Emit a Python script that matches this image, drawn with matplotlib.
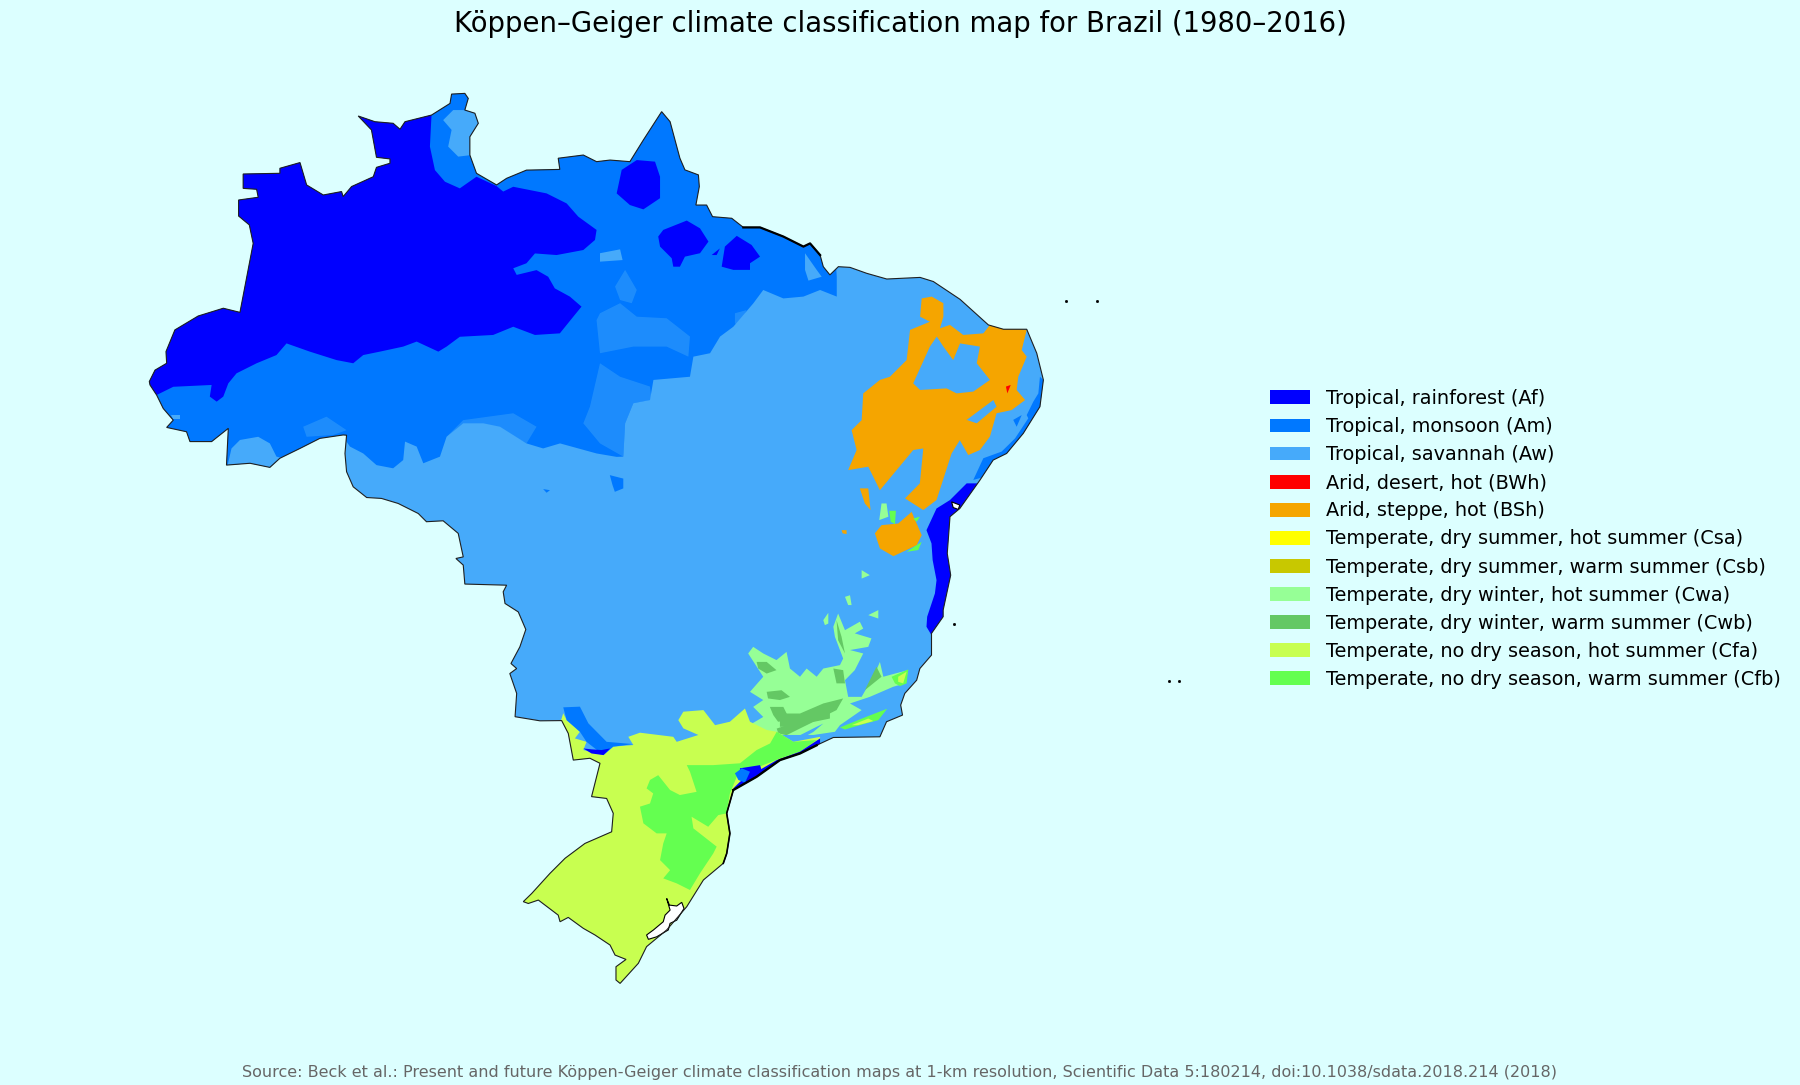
import matplotlib
matplotlib.use("Agg")
import matplotlib.pyplot as plt
from matplotlib.patches import Polygon, Patch

# ---- legend data
labels = ["Tropical, rainforest (Af)", "Tropical, monsoon (Am)", "Tropical, savannah (Aw)",
          "Arid, desert, hot (BWh)", "Arid, steppe, hot (BSh)",
          "Temperate, dry summer, hot summer (Csa)", "Temperate, dry summer, warm summer (Csb)",
          "Temperate, dry winter, hot summer (Cwa)", "Temperate, dry winter, warm summer (Cwb)",
          "Temperate, no dry season, hot summer (Cfa)", "Temperate, no dry season, warm summer (Cfb)"]
codes = ["Af", "Am", "Aw", "BWh", "BSh", "Csa", "Csb", "Cwa", "Cwb", "Cfa", "Cfb"]
hexes = ["#0000FF", "#0078FF", "#46AAFA", "#FF0000", "#F5A500", "#FFFF00", "#C8C800",
         "#96FF96", "#64C864", "#C8FF50", "#64FF50"]
palette = dict(zip(codes, hexes))
title_text = "Köppen–Geiger climate classification map for Brazil (1980–2016)"
source_text = ("Source: Beck et al.: Present and future Köppen-Geiger climate classification maps at "
               "1-km resolution, Scientific Data 5:180214, doi:10.1038/sdata.2018.214 (2018)")

# ---- geography, (lon, lat) in degrees
brazil = [(-73.99,-7.37),(-73.74,-6.87),(-73.23,-6.57),(-73.26,-6.06),(-72.87,-5.11),(-71.85,-4.50),(-70.75,-4.16),(-70.02,-4.34),
 (-69.44,-1.32),(-69.61,-0.51),(-70.08,-0.12),(-70.08,0.58),(-69.22,0.70),(-69.29,1.05),(-69.88,1.09),(-69.88,1.72),(-68.27,1.75),
 (-68.27,1.97),(-67.39,2.22),(-67.10,1.24),(-66.37,0.80),(-65.57,0.95),(-65.50,0.73),(-65.13,1.17),(-64.18,1.60),(-64.04,2.01),
 (-63.45,2.19),(-63.45,2.38),(-64.04,2.45),(-64.26,3.65),(-64.84,4.26),(-64.11,4.01),(-63.31,3.94),(-63.01,3.68),(-62.79,4.01),
 (-61.63,4.30),(-60.82,4.81),(-60.75,5.22),(-60.17,5.25),(-60.02,5.03),(-60.17,4.52),(-59.73,4.38),(-59.58,3.94),(-59.95,3.35),
 (-59.95,2.55),(-59.66,1.75),(-58.78,1.24),(-58.34,1.53),(-57.47,1.89),(-56.01,1.92),(-56.08,2.41),(-54.98,2.55),(-54.40,2.26),
 (-53.81,2.33),(-52.94,2.26),(-52.35,3.21),(-51.55,4.45),(-51.18,4.01),(-50.75,2.41),(-50.53,1.90),(-49.94,1.68),(-49.90,1.17),
 (-50.05,0.36),(-49.58,0.36),(-49.32,-0.15),(-48.48,-0.22),(-47.97,-0.62),(-47.24,-0.62),(-46.22,-1.02),(-45.34,-1.46),(-45.05,-1.32),
 (-44.61,-1.83),(-44.47,-2.34),(-44.18,-2.70),(-43.81,-2.34),(-43.30,-2.37),(-42.57,-2.63),(-41.69,-2.88),(-40.23,-2.81),(-39.65,-2.99),
 (-38.48,-3.77),(-37.24,-4.89),(-36.58,-5.08),(-35.56,-5.08),(-35.12,-6.13),(-34.83,-7.30),(-34.98,-8.47),(-35.71,-9.64),(-36.44,-10.52),
 (-37.03,-10.81),(-37.61,-11.69),(-38.49,-12.93),(-38.92,-13.29),(-39.04,-14.90),(-38.89,-15.85),(-39.22,-17.38),(-39.22,-17.67),
 (-39.73,-18.40),(-39.73,-19.35),(-40.24,-19.94),(-40.38,-20.45),(-40.90,-21.03),(-41.08,-21.54),(-41.00,-21.98),(-41.70,-22.27),
 (-41.99,-22.93),(-44.03,-22.96),(-44.76,-23.30),(-45.49,-23.66),(-46.37,-23.95),(-47.39,-24.68),(-48.41,-25.26),(-48.70,-26.28),
 (-48.56,-27.16),(-48.70,-28.04),(-48.85,-28.47),(-49.72,-29.20),(-50.45,-30.37),(-51.33,-31.39),(-52.21,-32.12),(-52.57,-32.85),
 (-53.37,-33.73),(-53.55,-33.58),(-53.55,-33.00),(-53.11,-32.68),(-53.59,-32.49),(-53.81,-32.05),(-54.47,-31.61),(-54.98,-31.32),
 (-55.64,-30.84),(-56.00,-31.03),(-56.08,-30.74),(-56.95,-30.08),(-57.39,-30.23),(-57.61,-30.15),(-57.24,-29.79),(-56.44,-28.91),
 (-55.78,-28.25),(-54.91,-27.60),(-53.74,-27.09),(-53.67,-26.28),(-53.96,-25.63),(-54.62,-25.55),(-54.25,-24.09),(-54.69,-23.87),
 (-55.42,-23.95),(-55.64,-22.78),(-55.93,-22.22),(-56.88,-22.23),(-57.97,-22.05),(-57.90,-21.03),(-58.20,-20.16),(-57.90,-19.94),
 (-58.15,-19.72),(-57.76,-18.99),(-57.50,-18.23),(-57.83,-17.46),(-58.41,-17.09),(-58.49,-16.58),(-58.34,-16.29),(-60.17,-16.24),
 (-60.24,-15.41),(-60.56,-15.12),(-60.24,-15.05),(-60.46,-14.02),(-61.12,-13.47),(-61.85,-13.51),(-62.21,-13.15),(-63.09,-12.71),
 (-63.82,-12.49),(-64.47,-12.45),(-65.06,-11.98),(-65.35,-11.32),(-65.42,-10.52),(-65.35,-9.72),(-65.50,-9.71),(-66.52,-9.86),
 (-67.39,-10.30),(-68.27,-10.73),(-68.71,-11.13),(-69.58,-10.95),(-70.61,-11.03),(-70.53,-9.42),(-71.26,-10.00),(-72.21,-10.00),
 (-72.36,-9.57),(-73.23,-9.38),(-72.94,-9.06),(-73.38,-8.55),(-73.67,-7.96),(-73.96,-7.52)]

am_north = [(-74.84,-11.68),(-65.64,-11.68),(-65.50,-9.79),(-65.20,-10.22),(-64.62,-10.52),(-64.04,-11.03),(-63.31,-11.17),(-62.87,-10.81),
 (-62.79,-10.00),(-62.28,-10.22),(-61.99,-10.95),(-61.26,-10.66),(-60.97,-9.79),(-60.24,-9.20),(-59.36,-9.20),(-58.63,-9.35),(-57.47,-10.08),
 (-56.74,-10.30),(-56.00,-10.08),(-54.40,-10.52),(-53.52,-10.67),(-53.23,-10.66),(-53.15,-9.20),(-52.79,-8.32),(-52.06,-8.18),(-51.91,-7.30),
 (-50.31,-7.16),(-50.16,-6.28),(-49.43,-6.13),(-48.99,-5.40),(-48.41,-4.97),(-47.53,-3.94),(-47.10,-3.36),(-46.22,-3.73),(-45.34,-3.65),
 (-44.61,-3.36),(-43.88,-3.65),(-43.88,-2.78),(-44.03,-0.44),(-49.87,5.40),(-74.84,5.84)]
am_east_coast = [(-34.98,-7.16),(-34.69,-7.45),(-34.76,-8.62),(-35.56,-9.78),(-36.58,-10.81),(-37.39,-11.54),(-37.90,-11.68),(-37.46,-10.73),
 (-36.66,-10.44),(-36.07,-9.86),(-35.49,-8.98),(-35.56,-8.84),(-35.27,-8.25),(-35.05,-7.89)]
am_alagoas = [(-36.15,-9.05),(-35.78,-8.84),(-36.00,-9.35)]
am_parana = [(-55.86,-21.64),(-55.13,-21.61),(-54.76,-22.34),(-53.96,-23.15),(-52.79,-23.25),(-53.67,-23.36),(-54.10,-23.73),(-54.84,-23.15),
 (-55.13,-22.71),(-55.71,-22.20)]
am_santos = [(-48.34,-24.53),(-48.04,-24.31),(-47.68,-24.46),(-47.90,-24.94),(-48.19,-24.82)]
am_spot_1 = [(-53.82,-11.47),(-53.23,-11.62),(-53.23,-12.05),(-53.60,-12.20),(-53.70,-11.91)]
am_spot_2 = [(-56.74,-12.08),(-56.44,-12.13),(-56.59,-12.24)]

af_amazon = [(-73.67,-7.96),(-74.84,-7.30),(-74.84,2.19),(-64.62,5.11),(-61.70,5.11),(-61.63,4.30),(-61.70,2.92),(-61.48,1.89),(-61.04,1.38),
 (-60.39,1.09),(-59.66,1.60),(-58.78,1.19),(-58.49,0.95),(-58.05,1.16),(-56.59,0.87),(-55.71,0.43),(-55.20,-0.15),(-54.40,-0.73),(-54.47,-1.17),
 (-54.98,-1.61),(-56.15,-1.83),(-57.10,-1.76),(-57.47,-2.19),(-58.05,-2.41),(-57.90,-2.70),(-57.03,-2.49),(-56.52,-2.78),(-56.23,-3.29),
 (-55.57,-3.65),(-55.06,-4.09),(-55.42,-4.53),(-56.01,-5.26),(-57.10,-5.33),(-58.05,-4.97),(-58.93,-5.33),(-60.39,-5.41),(-60.97,-5.84),
 (-61.33,-6.06),(-62.28,-5.62),(-62.87,-5.84),(-63.89,-6.06),(-64.62,-6.21),(-65.06,-6.57),(-65.79,-6.43),(-66.96,-6.06),(-67.98,-5.70),
 (-68.42,-6.21),(-69.29,-6.57),(-70.17,-7.01),(-70.53,-7.45),(-70.75,-8.03),(-71.04,-8.25),(-71.34,-8.03),(-71.26,-7.52),(-72.94,-7.60)]
af_blob_1 = [(-53.52,0.87),(-53.30,1.90),(-52.64,2.33),(-51.84,2.26),(-51.62,1.60),(-51.62,0.66),(-52.35,0.17),(-52.94,0.36)]
af_blob_2 = [(-51.70,-1.02),(-51.48,-0.73),(-50.45,-0.32),(-49.87,-0.66),(-49.50,-1.24),(-49.87,-1.75),(-50.53,-1.90),(-50.75,-2.34),
 (-51.04,-2.34),(-51.11,-1.97),(-51.62,-1.46)]
af_blob_3 = [(-48.92,-2.34),(-48.78,-1.46),(-48.26,-0.99),(-47.61,-1.39),(-47.24,-1.90),(-47.68,-2.19),(-47.68,-2.48),(-48.41,-2.48)]
af_blob_4 = [(-49.36,-1.83),(-49.00,-1.54),(-49.14,-1.83)]
af_bahia = [(-39.95,-13.88),(-39.51,-12.93),(-38.92,-12.56),(-38.19,-11.83),(-37.61,-11.83),(-37.32,-12.86),(-38.78,-13.73),(-38.63,-14.90),
 (-38.49,-15.85),(-38.78,-17.38),(-39.07,-17.82),(-39.73,-18.48),(-39.95,-18.11),(-39.92,-17.67),(-39.58,-16.65),(-39.51,-16.07),(-39.68,-15.19),(-39.73,-14.46)]
af_se_coast = [(-44.61,-23.00),(-45.49,-23.58),(-46.51,-23.95),(-47.39,-24.46),(-48.12,-24.90),(-48.41,-25.19),(-48.34,-25.34),(-47.90,-25.19),
 (-47.10,-24.68),(-46.22,-24.17),(-45.49,-23.95),(-44.61,-23.36)]
af_ribeira = [(-48.12,-24.31),(-47.24,-24.17),(-47.17,-24.39),(-47.75,-24.82),(-48.12,-24.75)]
af_parana = [(-54.98,-23.44),(-54.62,-23.66),(-54.10,-23.73),(-53.81,-23.44),(-54.18,-23.51),(-54.62,-23.48)]

aw_roraima = [(-61.12,4.08),(-60.68,4.52),(-60.24,4.52),(-59.73,4.38),(-59.51,3.94),(-59.88,3.35),(-59.88,2.55),(-60.46,2.48),(-60.90,2.92),(-60.75,3.65)]
aw_acre = [(-70.39,-10.30),(-70.02,-9.93),(-69.22,-9.79),(-68.71,-10.08),(-68.42,-10.66),(-68.12,-10.73),(-68.56,-11.32),(-70.61,-11.25)]
aw_acre_dot = [(-73.02,-8.84),(-72.65,-8.84),(-72.65,-9.03),(-72.94,-9.03)]
aw_maranhao = [(-45.27,-1.75),(-44.76,-2.48),(-44.54,-2.78),(-45.12,-2.95),(-45.27,-2.48)]
aw_para = [(-54.25,-1.75),(-53.37,-1.58),(-53.26,-2.05),(-54.25,-2.12)]
aw_sertao = [(-40.53,-7.45),(-39.80,-5.84),(-39.50,-5.40),(-39.21,-5.84),(-38.78,-6.43),(-38.48,-5.70),(-37.61,-5.84),(-37.75,-6.57),(-37.17,-7.30),
 (-37.90,-7.81),(-38.63,-7.89),(-39.07,-7.67),(-40.23,-7.74)]
aw_streak = [(-38.19,-9.05),(-37.02,-8.18),(-36.88,-8.47),(-37.75,-9.20)]
aw_band = [(-45.49,-22.86),(-44.76,-22.49),(-44.47,-22.35),(-44.91,-22.72),(-45.42,-23.00)]

mottled_1 = [(-54.40,-4.68),(-54.25,-4.38),(-53.37,-3.94),(-52.64,-4.53),(-51.33,-4.60),(-50.31,-5.40),(-50.38,-6.28),(-51.33,-5.84),(-52.79,-5.84),(-54.25,-6.13)]
mottled_2 = [(-53.59,-3.21),(-53.15,-2.48),(-52.64,-3.36),(-52.86,-3.94),(-53.37,-3.80)]
mottled_3 = [(-54.25,-6.57),(-53.37,-7.16),(-52.06,-7.59),(-51.99,-8.18),(-52.79,-8.32),(-53.15,-9.20),(-53.23,-10.66),(-54.25,-10.08),(-54.98,-9.20),(-54.69,-8.47)]
mottled_4 = [(-60.97,-9.79),(-60.24,-9.06),(-58.05,-8.76),(-57.03,-9.35),(-57.47,-10.08),(-58.78,-9.35)]
mottled_5 = [(-67.25,-9.35),(-66.23,-8.91),(-65.35,-9.50),(-65.93,-9.71),(-67.10,-9.79)]
mottled_6 = [(-48.34,-4.38),(-47.83,-4.24),(-48.12,-4.97),(-48.34,-4.82)]

bsh_main = [(-43.38,-11.25),(-43.01,-10.37),(-43.23,-9.50),(-42.79,-9.06),(-42.72,-7.89),(-41.99,-7.30),(-41.55,-7.16),(-40.82,-6.43),(-40.67,-5.11),
 (-39.80,-4.75),(-40.23,-4.53),(-40.16,-3.73),(-39.72,-3.65),(-39.21,-3.94),(-39.21,-4.53),(-39.36,-5.04),(-38.92,-4.89),(-38.34,-5.33),(-37.46,-5.26),
 (-37.17,-4.89),(-35.56,-5.11),(-35.78,-5.99),(-35.56,-6.28),(-35.93,-7.16),(-36.00,-7.74),(-35.63,-8.18),(-36.22,-8.62),(-36.88,-8.76),(-37.17,-9.78),
 (-37.61,-10.37),(-38.12,-10.59),(-38.49,-9.94),(-38.85,-10.52),(-39.51,-12.56),(-40.09,-13.00),(-40.89,-12.49),(-40.24,-11.83),(-40.09,-10.30),
 (-40.53,-10.37),(-41.26,-11.25),(-41.99,-12.13),(-42.50,-11.10)]
bsh_west = [(-42.87,-12.05),(-42.50,-12.05),(-42.40,-13.00),(-42.65,-12.71)]
bsh_south = [(-42.21,-14.02),(-41.92,-13.66),(-41.19,-13.59),(-40.60,-13.08),(-40.16,-14.10),(-40.38,-14.54),(-41.40,-15.02),(-41.99,-14.68)]
bsh_dot = [(-43.67,-13.88),(-43.45,-13.88),(-43.45,-14.05),(-43.62,-14.02)]
bwh_spot = [(-36.47,-7.59),(-36.26,-7.52),(-36.41,-7.89)]

cwa_main = [(-47.76,-19.28),(-47.54,-18.99),(-47.10,-19.28),(-46.52,-19.57),(-46.08,-19.21),(-45.93,-19.94),(-45.49,-20.30),(-45.20,-19.94),(-44.76,-20.30),
 (-44.47,-19.94),(-43.74,-19.79),(-43.60,-19.50),(-43.96,-18.55),(-44.03,-18.11),(-43.82,-17.53),(-43.52,-18.26),(-42.87,-17.89),(-42.72,-18.19),
 (-43.09,-18.40),(-42.36,-18.62),(-42.50,-18.99),(-43.30,-19.13),(-42.72,-19.28),(-43.09,-20.01),(-43.52,-20.45),(-43.38,-21.18),(-42.79,-21.18),
 (-42.21,-20.16),(-41.99,-19.65),(-41.84,-20.30),(-41.33,-20.16),(-40.75,-20.01),(-40.89,-20.59),(-41.41,-20.74),(-42.43,-21.18),(-43.30,-21.47),
 (-42.79,-21.76),(-43.74,-22.42),(-43.96,-22.71),(-44.90,-22.85),(-45.64,-22.85),(-46.37,-22.85),(-46.81,-22.71),(-47.83,-22.49),(-47.10,-22.06),
 (-47.54,-21.62),(-47.10,-21.32),(-47.68,-20.96),(-47.10,-20.30)]
cwa_spot_1 = [(-44.47,-17.82),(-44.25,-17.50),(-44.25,-17.97),(-44.40,-18.04)]
cwa_spot_2 = [(-43.52,-16.80),(-43.30,-16.73),(-43.23,-17.16),(-43.38,-17.16)]
cwa_spot_3 = [(-42.79,-15.63),(-42.43,-15.85),(-42.79,-16.00)]
cwa_spot_4 = [(-42.50,-17.60),(-42.06,-17.38),(-42.06,-17.75)]
cwa_spot_5 = [(-42.02,-13.44),(-41.92,-12.71),(-41.70,-12.71),(-41.62,-13.29)]

cwb_1 = [(-47.39,-19.65),(-46.95,-19.65),(-46.52,-20.01),(-46.95,-20.16),(-47.32,-19.94)]
cwb_2 = [(-46.95,-20.96),(-46.30,-20.89),(-45.93,-21.18),(-46.37,-21.32),(-46.89,-21.25)]
cwb_3 = [(-46.81,-21.62),(-46.22,-21.62),(-45.93,-22.20),(-46.45,-22.27),(-46.66,-21.98)]
cwb_4 = [(-46.51,-22.57),(-46.08,-22.42),(-45.64,-22.27),(-44.91,-21.91),(-44.18,-21.76),(-44.18,-22.13),(-44.91,-22.28),(-45.50,-22.57),(-46.08,-22.86),(-46.44,-22.78)]
cwb_5 = [(-46.37,-21.91),(-45.49,-21.91),(-44.47,-21.47),(-43.60,-21.25),(-43.89,-21.76),(-44.91,-22.27),(-45.93,-22.49),(-46.37,-22.49)]
cwb_6 = [(-44.03,-19.94),(-43.60,-20.01),(-43.52,-20.59),(-43.89,-20.59)]
cwb_7 = [(-42.65,-20.89),(-42.14,-19.86),(-41.92,-20.30),(-42.28,-20.59)]
cwb_8 = [(-43.89,-17.82),(-43.67,-18.55),(-43.52,-19.28),(-43.82,-18.70)]

cfa_south = [(-55.86,-21.90),(-55.71,-22.20),(-55.13,-22.71),(-55.35,-23.00),(-54.84,-23.15),(-54.98,-23.51),(-54.10,-23.73),(-53.67,-23.36),(-52.79,-23.29),
 (-53.01,-22.93),(-52.50,-22.75),(-51.04,-22.93),(-50.89,-23.15),(-49.94,-22.85),(-50.60,-22.56),(-50.82,-22.20),(-50.60,-21.83),(-49.72,-21.76),
 (-49.21,-22.42),(-48.56,-22.27),(-47.90,-21.69),(-47.68,-22.27),(-46.95,-22.63),(-46.51,-22.71),(-45.78,-23.15),(-44.61,-22.93),(-44.61,-24.24),
 (-46.95,-26.00),(-47.68,-28.62),(-51.33,-33.00),(-52.79,-34.46),(-54.25,-34.46),(-58.63,-30.08),(-57.17,-27.16),(-56.88,-22.34),(-56.00,-22.34)]
cfa_rio = [(-43.23,-22.42),(-42.50,-22.13),(-42.28,-22.24),(-42.94,-22.42)]
cfa_es = [(-41.19,-20.30),(-40.82,-20.08),(-40.97,-20.59),(-41.19,-20.52)]

cfb_main = [(-51.70,-24.61),(-51.18,-25.26),(-50.75,-25.48),(-50.02,-25.34),(-50.31,-24.46),(-50.45,-24.17),(-49.29,-24.17),(-48.12,-24.09),(-47.39,-23.51),
 (-46.80,-23.22),(-46.51,-22.71),(-45.78,-23.15),(-44.76,-23.07),(-45.49,-23.58),(-46.37,-23.88),(-47.10,-24.17),(-48.26,-24.68),(-48.56,-25.41),
 (-48.70,-26.28),(-49.07,-26.36),(-49.51,-26.87),(-50.24,-26.43),(-50.16,-26.94),(-49.51,-27.45),(-49.14,-27.74),(-49.29,-28.04),(-49.87,-28.91),
 (-50.31,-29.64),(-50.89,-29.35),(-51.48,-29.13),(-51.18,-28.77),(-51.62,-28.33),(-51.48,-27.60),(-51.33,-27.16),(-51.77,-27.16),(-52.35,-26.72),
 (-52.50,-25.99),(-52.06,-25.85),(-51.92,-25.41),(-52.21,-25.19),(-52.06,-24.82)]
cfb_rio = [(-43.74,-22.52),(-42.50,-22.02),(-41.67,-21.70),(-42.06,-22.20),(-42.87,-22.42),(-43.52,-22.61)]
cfb_es = [(-41.48,-20.30),(-40.75,-19.98),(-40.82,-20.59),(-41.11,-20.71),(-41.33,-20.59)]
cfb_ba_1 = [(-41.58,-13.03),(-41.29,-13.03),(-41.33,-13.62),(-41.52,-13.51)]
cfb_ba_2 = [(-40.53,-13.37),(-40.24,-13.29),(-40.38,-13.51)]
cfb_ba_3 = [(-40.82,-14.83),(-40.16,-14.39),(-40.31,-14.75)]

lagoon_patos = [(-51.33,-30.01),(-51.21,-30.30),(-50.89,-30.34),(-50.67,-30.18),(-50.57,-30.45),(-50.89,-30.96),(-51.18,-31.10),(-51.26,-31.39),
 (-51.77,-31.69),(-52.13,-31.80),(-52.21,-31.61),(-51.91,-31.39),(-51.48,-31.03),(-51.40,-30.74),(-51.18,-30.52)]
bay_salvador = [(-38.85,-12.64),(-38.49,-12.78),(-38.56,-12.97),(-38.78,-12.89)]

rough_coast_north = [(-47.97,-0.62),(-47.24,-0.62),(-46.22,-1.02),(-45.34,-1.46),(-45.05,-1.32),(-44.61,-1.83)]
rough_coast_south = [(-44.76,-23.30),(-45.49,-23.66),(-46.37,-23.95),(-47.39,-24.68),(-48.41,-25.26)]
rough_coast_sc = [(-48.41,-25.26),(-48.70,-26.28),(-48.56,-27.16),(-48.70,-28.04),(-48.85,-28.47)]
island_lon = [-33.84, -32.47, -29.33, -28.89, -38.73]
island_lat = [-3.84, -3.84, -20.49, -20.49, -17.97]

# ---- drawing order: (climate code, region, alpha)
layers = [("Am", am_north, 1), ("Am", am_east_coast, 1), ("Am", am_alagoas, 1), ("Am", am_spot_1, 1), ("Am", am_spot_2, 1),
          ("Af", af_amazon, 1), ("Af", af_blob_1, 1), ("Af", af_blob_2, 1), ("Af", af_blob_3, 1), ("Af", af_blob_4, 1),
          ("Aw", aw_roraima, 1), ("Aw", aw_acre, 1), ("Aw", aw_acre_dot, 1), ("Aw", aw_maranhao, 1), ("Aw", aw_para, 1),
          ("Aw", mottled_1, .42), ("Aw", mottled_2, .42), ("Aw", mottled_3, .42), ("Aw", mottled_4, .42), ("Aw", mottled_5, .42), ("Aw", mottled_6, .42),
          ("BSh", bsh_main, 1), ("BSh", bsh_west, 1), ("BSh", bsh_south, 1), ("BSh", bsh_dot, 1),
          ("Aw", aw_sertao, 1), ("Aw", aw_streak, 1), ("BWh", bwh_spot, 1),
          ("Af", af_bahia, 1),
          ("Cwa", cwa_main, 1), ("Cwa", cwa_spot_1, 1), ("Cwa", cwa_spot_2, 1), ("Cwa", cwa_spot_3, 1), ("Cwa", cwa_spot_4, 1), ("Cwa", cwa_spot_5, 1),
          ("Cwb", cwb_1, 1), ("Cwb", cwb_2, 1), ("Cwb", cwb_3, 1), ("Cwb", cwb_4, 1), ("Cwb", cwb_5, 1), ("Cwb", cwb_6, 1), ("Cwb", cwb_7, 1), ("Cwb", cwb_8, 1),
          ("Aw", aw_band, 1),
          ("Cfa", cfa_south, 1), ("Cfb", cfb_main, 1), ("Cfb", cfb_rio, 1), ("Cfb", cfb_es, 1),
          ("Cfa", cfa_rio, 1), ("Cfa", cfa_es, 1), ("Cfb", cfb_ba_1, 1), ("Cfb", cfb_ba_2, 1), ("Cfb", cfb_ba_3, 1),
          ("Am", am_parana, 1), ("Af", af_parana, 1), ("Af", af_se_coast, 1), ("Af", af_ribeira, 1), ("Am", am_santos, 1)]

BG = "#DCFFFF"
fig = plt.figure(figsize=(18, 10.85), dpi=100, facecolor=BG)
ax = fig.add_axes([0, 0, 1, 1], facecolor=BG)
ax.set_xlim(-80.53, -1.69)
ax.set_ylim(-38.18, 9.34)
ax.axis("off")

land = Polygon(brazil, closed=True, facecolor=palette["Aw"], edgecolor="none", zorder=1)
ax.add_patch(land)
for i, (code, region, alpha) in enumerate(layers):
    p = Polygon(region, closed=True, facecolor=palette[code], edgecolor="none", alpha=alpha,
                zorder=2 + i * 0.01)
    ax.add_patch(p)
    p.set_clip_path(land)

for region in (lagoon_patos, bay_salvador):
    ax.add_patch(Polygon(region, closed=True, facecolor="white", edgecolor="black", lw=0.8, zorder=4))
ax.add_patch(Polygon(brazil, closed=True, facecolor="none", edgecolor="#202020", lw=0.8, zorder=5))
for line, w in ((rough_coast_north, 1.6), (rough_coast_south, 1.7), (rough_coast_sc, 1.2)):
    ax.plot(*zip(*line), color="black", lw=w, zorder=5)
ax.plot(island_lon, island_lat, ls="none", marker="s", ms=1.0, color="black", zorder=5)

handles = [Patch(facecolor=c, edgecolor="none", label=l) for c, l in zip(hexes, labels)]
fig.legend(handles=handles, loc="center left", bbox_to_anchor=(1270 / 1800, 1 - 539 / 1085),
           frameon=False, fontsize=13.9, handlelength=2.08, handleheight=0.73,
           handletextpad=0.8, labelspacing=0.47, borderpad=0, borderaxespad=0)
fig.text(0.5, 1 - 24 / 1085, title_text, ha="center", va="center", fontsize=19.8, color="black")
fig.text(0.5, 1 - 1073 / 1085, source_text, ha="center", va="center", fontsize=11.53, color="#666666")
fig.savefig("out.png", dpi=100, facecolor=BG)
